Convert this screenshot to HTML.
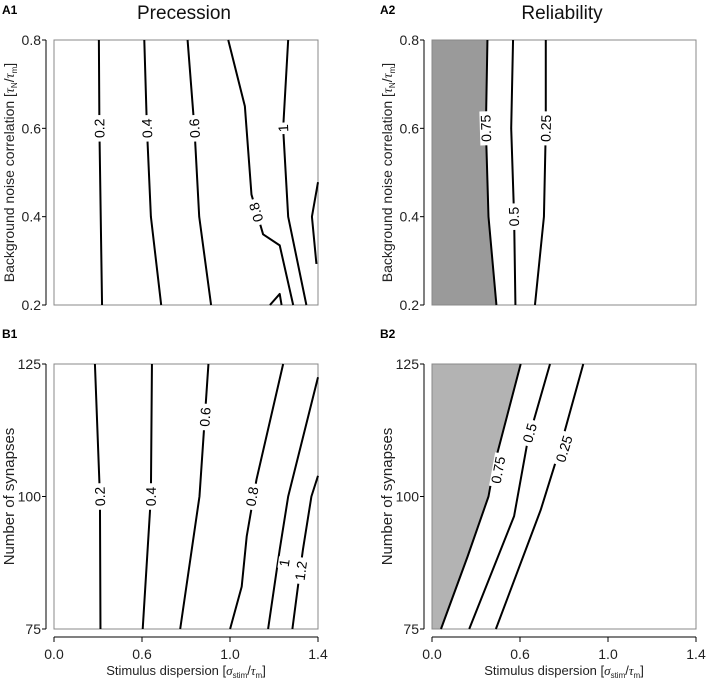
<!DOCTYPE html>
<html><head><meta charset="utf-8"><style>
body{margin:0;background:#fff;}
svg{display:block;font-family:"Liberation Sans",Arial,sans-serif;}
</style></head><body>
<svg id="fig" width="708" height="684" viewBox="0 0 708 684" xmlns="http://www.w3.org/2000/svg"></svg>
<script>
// ---- data ----
// x values are expressed as fraction of the x-axis span (axis ticks 0.0,0.6,1.0,1.4 are evenly spaced)
const xTickLabels = ["0.0","0.6","1.0","1.4"];
const yTicksA = [0.2,0.4,0.6,0.8];
const yTicksB = [75,100,125];

const a1Levels = ["0.2","0.4","0.6","0.8","1","",""];
const a1X = [[0.17,0.172,0.182],[0.342,0.352,0.367,0.406],[0.506,0.532,0.55,0.595],[0.66,0.723,0.748,0.792,0.855,0.906],[0.887,0.868,0.887,0.956],[1.0,0.977,0.994],[0.818,0.855,0.862]];
const a1Y = [[0.8,0.6,0.2],[0.8,0.6,0.4,0.2],[0.8,0.6,0.4,0.2],[0.8,0.65,0.45,0.36,0.335,0.2],[0.8,0.6,0.4,0.2],[0.478,0.4,0.293],[0.2,0.225,0.2]];
const a1LabelPos = [[0.172,0.6],[0.352,0.6],[0.532,0.6],[0.765,0.41],[0.868,0.6]];

const a2Levels = ["0.75","0.5","0.25"];
const a2X = [[0.21,0.204,0.214,0.244],[0.307,0.3,0.311,0.316],[0.431,0.431,0.424,0.39]];
const a2Y = [[0.8,0.6,0.4,0.2],[0.8,0.6,0.4,0.2],[0.8,0.6,0.4,0.2]];
const a2LabelPos = [[0.204,0.6],[0.31,0.4],[0.431,0.6]];

const b1Levels = ["0.2","0.4","0.6","0.8","1","1.2"];
const b1X = [[0.155,0.174,0.176],[0.371,0.367,0.336],[0.585,0.551,0.478],[0.868,0.767,0.73,0.711,0.667],[1.0,0.887,0.855,0.811],[1.0,0.975,0.943,0.925,0.903]];
const b1Y = [[125,100,75],[125,100,75],[125,100,75],[125,103.2,92.5,83,75],[122.5,100,90,75],[103.9,100,90,83.4,75]];
const b1LabelPos = [[0.174,100],[0.367,100],[0.572,115],[0.75,100],[0.872,87.5],[0.935,86]];

const b2Levels = ["0.75","0.5","0.25"];
const b2X = [[0.336,0.236,0.214,0.135,0.034],[0.447,0.361,0.311,0.141],[0.573,0.487,0.412,0.242]];
const b2Y = [[125,106,100,88.7,75],[125,110.1,96.3,75],[125,109.5,97.5,75]];
const b2LabelPos = [[0.25,105],[0.37,112],[0.5,109]];

// ---- drawing ----
const NS="http://www.w3.org/2000/svg";
const svg=document.getElementById('fig');
function mk(tag,attrs,parent){const e=document.createElementNS(NS,tag);for(const k in attrs)e.setAttribute(k,attrs[k]);(parent||svg).appendChild(e);return e;}
function txt(s,attrs,parent){const e=mk('text',attrs,parent);e.textContent=s;return e;}

function panel(o){
  const g=mk('g',{});
  
  
  const L=o.x0,R=o.x0+264,T=o.y0,B=o.y0+265;
  const sx=f=>L+f*(R-L);
  const sy=v=>B-(v-o.ymin)/(o.ymax-o.ymin)*(B-T);
  if(o.fill){
    const xs=o.X[0],ys=o.Y[0];
    let d=`M${L},${T} `;
    const pts=xs.map((x,j)=>[sx(x),sy(ys[j])]);
    if(pts[0][1]>pts[pts.length-1][1])pts.reverse();
    pts.forEach(p=>d+=`L${p[0]},${p[1]} `);
    d+=`L${L},${B} Z`;
    const f=mk('path',{d:d,fill:o.fill,stroke:'none'},g);
    
    
  }
  const box=mk('rect',{x:L,y:T,width:R-L,height:B-T,fill:'none',stroke:'#888','stroke-width':1},g);
  
  
  o.X.forEach((xs,i)=>{
    const pts=xs.map((x,j)=>sx(x)+','+sy(o.Y[i][j])).join(' ');
    const pl=mk('polyline',{points:pts,fill:'none',stroke:'#000','stroke-width':2,'stroke-linejoin':'round'},g);
    
    
  });
  o.lab.forEach((p,i)=>{
    const xs=o.X[i],ys=o.Y[i];
    const px=sx(p[0]),py=sy(p[1]);
    let best=0,bd=1e9;
    for(let j=0;j<xs.length-1;j++){const my=(sy(ys[j])+sy(ys[j+1]))/2;const d=Math.abs(my-py);if(d<bd){bd=d;best=j;}}
    let dx=sx(xs[best+1])-sx(xs[best]),dy=sy(ys[best+1])-sy(ys[best]);
    if(dy>0){dx=-dx;dy=-dy;}
    const ang=Math.atan2(dy,dx)*180/Math.PI;
    const s=o.levels[i];const w=s.length*7.5+4;
    const lg=mk('g',{transform:`translate(${px},${py}) rotate(${ang})`},g);
    mk('rect',{x:-w/2,y:-6,width:w,height:12,fill:'#fff'},lg);
    const t=txt(s,{x:0,y:5,'text-anchor':'middle','font-size':14,fill:'#000'},lg);
    
    
  });
  const ax=L-8;
  mk('line',{x1:ax,y1:T,x2:ax,y2:B,stroke:'#000','stroke-width':1},g);
  o.yt.forEach(v=>{
    mk('line',{x1:ax-4,y1:sy(v),x2:ax,y2:sy(v),stroke:'#000','stroke-width':1},g);
    const t=txt(o.ylabfmt(v),{x:ax-5,y:sy(v)+5,'text-anchor':'end','font-size':14,fill:'#222'},g);
    
    
  });
  const yt=mk('text',{transform:`translate(${L-40},${(T+B)/2}) rotate(-90)`,'text-anchor':'middle','font-size':o.ytsize,fill:'#222'},g);
  
  
  yt.innerHTML=o.ytitle;
  if(o.xaxis){
    const ay=B+8;
    mk('line',{x1:L,y1:ay,x2:R,y2:ay,stroke:'#000','stroke-width':1},g);
    xTickLabels.forEach((s,i)=>{
      const x=L+i*(R-L)/(xTickLabels.length-1);
      mk('line',{x1:x,y1:ay,x2:x,y2:ay+5,stroke:'#000','stroke-width':1},g);
      const t=txt(s,{x:x,y:ay+22,'text-anchor':'middle','font-size':14,fill:'#222'},g);
      
      
    });
    const xt=mk('text',{x:(L+R)/2,y:B+46,'text-anchor':'middle','font-size':13,fill:'#222'},g);
    
    
    xt.innerHTML='Stimulus dispersion [<tspan font-family="Liberation Serif" font-style="italic">σ</tspan><tspan font-size="8" dy="3">stim</tspan><tspan dy="-3">/</tspan><tspan font-family="Liberation Serif" font-style="italic">τ</tspan><tspan font-size="8" dy="3">m</tspan><tspan dy="-3">]</tspan>';
  }
  const pl=txt(o.tag,{x:o.x0-52,y:o.y0-26,'font-size':12,'font-weight':'bold',fill:'#000'},g);
  
  
  if(o.title){
    const tt=txt(o.title,{x:(L+R)/2-2,y:19,'text-anchor':'middle','font-size':19,fill:'#111'},g);
    
    
  }
}
const tauTitle='Background noise correlation [<tspan font-family="Liberation Serif" font-style="italic">τ</tspan><tspan font-size="8" dy="3">N</tspan><tspan dy="-3">/</tspan><tspan font-family="Liberation Serif" font-style="italic">τ</tspan><tspan font-size="8" dy="3">m</tspan><tspan dy="-3">]</tspan>';
const fmtA=v=>v.toFixed(1), fmtB=v=>String(v);
panel({name:'panel-a1',tag:'A1',title:'Precession',x0:54,y0:40,ymin:0.2,ymax:0.8,X:a1X,Y:a1Y,levels:a1Levels,lab:a1LabelPos,yt:yTicksA,ylabfmt:fmtA,ytitle:tauTitle,ytsize:14});
panel({name:'panel-a2',tag:'A2',title:'Reliability',x0:432,y0:40,ymin:0.2,ymax:0.8,X:a2X,Y:a2Y,levels:a2Levels,lab:a2LabelPos,yt:yTicksA,ylabfmt:fmtA,ytitle:tauTitle,ytsize:14,fill:'#9a9a9a'});
panel({name:'panel-b1',tag:'B1',x0:54,y0:364,ymin:75,ymax:125,X:b1X,Y:b1Y,levels:b1Levels,lab:b1LabelPos,yt:yTicksB,ylabfmt:fmtB,ytitle:'Number of synapses',ytsize:15,xaxis:true});
panel({name:'panel-b2',tag:'B2',x0:432,y0:364,ymin:75,ymax:125,X:b2X,Y:b2Y,levels:b2Levels,lab:b2LabelPos,yt:yTicksB,ylabfmt:fmtB,ytitle:'Number of synapses',ytsize:15,xaxis:true,fill:'#b3b3b3'});
</script>
</body></html>
